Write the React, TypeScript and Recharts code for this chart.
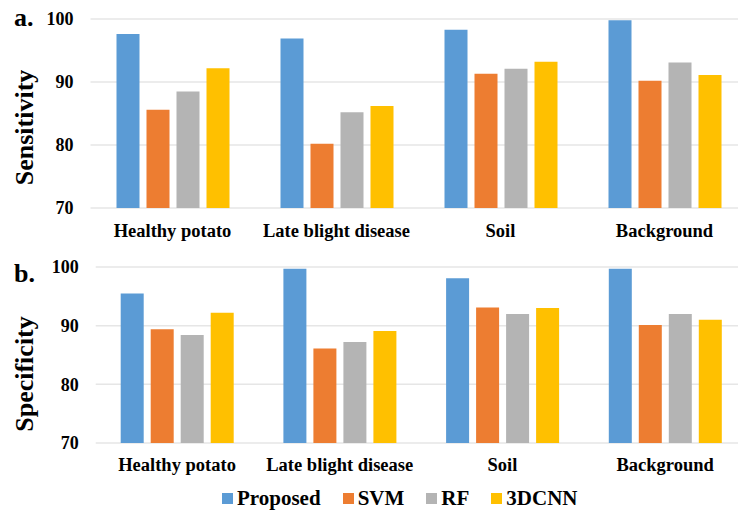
import React from 'react';
import { BarChart, Bar, XAxis, YAxis, CartesianGrid, Legend } from 'recharts';

const categories = ['Healthy potato', 'Late blight disease', 'Soil', 'Background'];
const seriesNames = ['Proposed', 'SVM', 'RF', '3DCNN'];
const seriesColors = ['#5B9BD5', '#ED7D31', '#B4B4B4', '#FFC000'];
const yTicks = [70, 80, 90, 100];

const sensProposed = [97.6, 96.9, 98.3, 99.8];
const sensSVM = [85.6, 80.2, 91.3, 90.2];
const sensRF = [88.5, 85.2, 92.1, 93.1];
const sens3DCNN = [92.2, 86.2, 93.2, 91.1];

const specProposed = [95.5, 99.7, 98.1, 99.7];
const specSVM = [89.4, 86.1, 93.1, 90.1];
const specRF = [88.4, 87.2, 92.0, 92.0];
const spec3DCNN = [92.2, 89.1, 93.0, 91.0];

const build = (a: number[], b: number[], c: number[], d: number[]) =>
  categories.map((name, i) => ({ name, Proposed: a[i], SVM: b[i], RF: c[i], '3DCNN': d[i] }));

const sensData = build(sensProposed, sensSVM, sensRF, sens3DCNN);
const specData = build(specProposed, specSVM, specRF, spec3DCNN);

const FONT = '"Liberation Serif", "Times New Roman", serif';

const AxisTitle = (props: any) => {
  const { viewBox, title, tx, yShift } = props;
  const cy = viewBox.y + viewBox.height / 2 + yShift;
  return (
    <text
      x={tx}
      y={cy}
      transform={`rotate(-90, ${tx}, ${cy})`}
      textAnchor="middle"
      fontFamily={FONT}
      fontWeight="bold"
      fontSize={26}
      fill="#000"
    >
      {title}
    </text>
  );
};

const LegendContent = () => (
  <div style={{ display: 'flex', alignItems: 'center', fontFamily: FONT, fontWeight: 'bold', fontSize: 21, color: '#000' }}>
    {seriesNames.map((n, i) => (
      <div key={n} style={{ display: 'flex', alignItems: 'center', marginRight: 22 }}>
        <span style={{ display: 'inline-block', width: 11, height: 11, background: seriesColors[i], marginRight: 4 }} />
        <span>{n}</span>
      </div>
    ))}
  </div>
);

const Panel = ({ data, title, yShift, marginLeft, tickMargin, withLegend, height, bottom }: any) => (
  <BarChart
    width={760}
    height={height}
    data={data}
    margin={{ top: 19, right: 760 - 746.5, left: 0, bottom }}
    barSize={23}
    barGap={7}
  >
    <CartesianGrid vertical={false} stroke="#E6E6E6" strokeWidth={1.5} />
    <XAxis
      dataKey="name"
      axisLine={false}
      tickLine={false}
      tickSize={0}
      tickMargin={tickMargin}
      height={40}
      interval={0}
      tick={{ fontFamily: FONT, fontWeight: 'bold', fontSize: 18.5, fill: '#000' }}
    />
    <YAxis
      domain={[70, 100]}
      ticks={yTicks}
      axisLine={false}
      tickLine={false}
      tickSize={0}
      tickMargin={17}
      width={marginLeft}
      tick={{ fontFamily: FONT, fontWeight: 'bold', fontSize: 18, fill: '#000' }}
      label={<AxisTitle title={title} tx={33} yShift={yShift} />}
    />
    {seriesNames.map((n, i) => (
      <Bar key={n} dataKey={n} fill={seriesColors[i]} isAnimationActive={false} />
    ))}
    {withLegend ? (
      <Legend
        verticalAlign="middle"
        layout="horizontal"
        align="center"
        content={<LegendContent />}
        wrapperStyle={{ left: 222, top: 238, width: 440, height: 24 }}
      />
    ) : null}
  </BarChart>
);

export default function App() {
  return (
    <div style={{ position: 'absolute', left: 0, top: 0, width: 738, height: 512, overflow: 'hidden', background: '#fff' }}>
      <div style={{ position: 'absolute', left: 0, top: 0 }}>
        <Panel data={sensData} title="Sensitivity" yShift={14} marginLeft={90.5} tickMargin={16} withLegend={false} height={248} bottom={0} />
      </div>
      <div style={{ position: 'absolute', left: 0, top: 248.3 }}>
        <Panel data={specData} title="Specificity" yShift={19} marginLeft={95.7} tickMargin={15} withLegend={true} height={264} bottom={29} />
      </div>
      <div style={{ position: 'absolute', left: 14, top: 2, fontFamily: FONT, fontWeight: 'bold', fontSize: 26, lineHeight: '32px' }}>a.</div>
      <div style={{ position: 'absolute', left: 14, top: 258, fontFamily: FONT, fontWeight: 'bold', fontSize: 26, lineHeight: '32px' }}>b.</div>
    </div>
  );
}
